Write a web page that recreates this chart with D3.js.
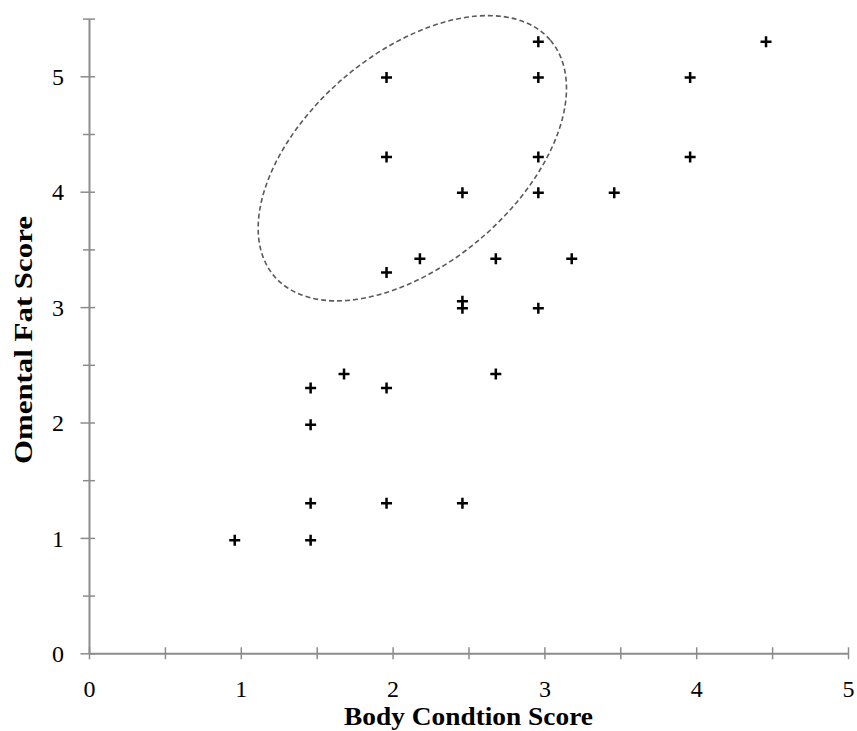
<!DOCTYPE html>
<html>
<head>
<meta charset="utf-8">
<script src="https://cdn.jsdelivr.net/npm/d3@7"></script>
<style>
body { margin: 0; background: #fff; }
</style>
</head>
<body>
<script>
let width = 857
let height = 731

// body condition score (x) and omental fat score (y)
let bcs = [0.96, 1.46, 1.46, 1.96, 2.46, 1.46, 1.46, 1.96, 1.68, 2.68,
           2.46, 2.46, 2.96, 1.96, 2.18, 2.68, 3.18, 2.46, 2.96, 3.46,
           1.96, 2.96, 3.96, 1.96, 2.96, 3.96, 2.96, 4.46]
let ofs = [0.98, 0.98, 1.30, 1.30, 1.30, 1.98, 2.30, 2.30, 2.42, 2.42,
           2.99, 3.05, 2.99, 3.30, 3.42, 3.42, 3.42, 3.99, 3.99, 3.99,
           4.30, 4.30, 4.30, 4.99, 4.99, 4.99, 5.30, 5.30]

let xTickValues = [0, 0.5, 1, 1.5, 2, 2.5, 3, 3.5, 4, 4.5, 5]
let yTickValues = [0, 0.5, 1, 1.5, 2, 2.5, 3, 3.5, 4, 4.5, 5, 5.5]

let xTitle = "Body Condtion Score"
let yTitle = "Omental Fat Score"

// dashed ring round the upper-left group (centre in data units)
let ringCentre = [2.13, 4.29]

let data = bcs.map((d, i) => ({x: d, y: ofs[i]}))

let svg = d3.select("body")
.append("svg")
.attr("width", width)
.attr("height", height)
.style("background", "#ffffff")

//scales
let x = d3.scaleLinear()
.domain([0, 5])
.range([89, 848])

let y = d3.scaleLinear()
.domain([0, 5.5])
.range([653.3, 18.6])

let axisColor = "#8c8c8c"
let serif = "'Liberation Serif', serif"

let xAxis = d3.axisBottom(x)
	.tickValues(xTickValues)
	.tickFormat(d => Number.isInteger(d) ? d : "")
	.tickSizeOuter(0)

let yAxis = d3.axisLeft(y)
	.tickValues(yTickValues)
	.tickFormat(d => Number.isInteger(d) ? d : "")
	.tickSizeOuter(0)

let gx = svg.append("g")
	.attr("transform", "translate(0," + y(0) + ")")
	.call(xAxis)

gx.select(".domain").attr("stroke", axisColor).attr("stroke-width", 2)
gx.selectAll(".tick line")
	.attr("stroke", axisColor)
	.attr("stroke-width", 1.5)
	.attr("y1", -6)
	.attr("y2", 6)
gx.selectAll(".tick text")
	.attr("y", 44)
	.attr("dy", 0)
	.style("font-family", serif)
	.style("font-size", "24px")
	.attr("fill", "#000")

let gy = svg.append("g")
	.attr("transform", "translate(" + x(0) + ",0)")
	.call(yAxis)

gy.select(".domain").attr("stroke", axisColor).attr("stroke-width", 2)
gy.selectAll(".tick line")
	.attr("stroke", axisColor)
	.attr("stroke-width", 1.5)
	.attr("x1", d => Number.isInteger(d) ? -8.5 : -6)
	.attr("x2", 6)
gy.selectAll(".tick text")
	.attr("x", -25)
	.attr("dy", "0.34em")
	.style("font-family", serif)
	.style("font-size", "24px")
	.attr("fill", "#000")

// axis titles (Cambria-like width, stretched from Liberation Serif)
svg.append("text")
	.attr("x", (x(0) + x(5)) / 2)
	.attr("y", 725)
	.attr("text-anchor", "middle")
	.attr("textLength", 249)
	.attr("lengthAdjust", "spacingAndGlyphs")
	.style("font-family", serif)
	.style("font-weight", "bold")
	.style("font-size", "25px")
	.text(xTitle)

svg.append("text")
	.attr("transform", "translate(32,340) rotate(-90)")
	.attr("text-anchor", "middle")
	.attr("textLength", 248)
	.attr("lengthAdjust", "spacingAndGlyphs")
	.style("font-family", serif)
	.style("font-weight", "bold")
	.style("font-size", "25px")
	.text(yTitle)

// dashed ellipse
svg.append("ellipse")
	.attr("cx", x(ringCentre[0]))
	.attr("cy", y(ringCentre[1]))
	.attr("rx", 181.6)
	.attr("ry", 105.5)
	.attr("transform", "rotate(-40.5," + x(ringCentre[0]) + "," + y(ringCentre[1]) + ")")
	.style("fill", "none")
	.style("stroke", "#5a5a5a")
	.style("stroke-width", 1.6)
	.style("stroke-dasharray", "5,3")

// plus markers
let arm = 5.5
svg.selectAll(".pt")
	.data(data)
	.enter()
	.append("path")
	.attr("class", "pt")
	.attr("d", d => {
		let px = x(d.x), py = y(d.y)
		return "M" + (px - arm) + "," + py + "H" + (px + arm) +
			"M" + px + "," + (py - arm) + "V" + (py + arm)
	})
	.style("stroke", "#000")
	.style("stroke-width", 2.5)
	.style("fill", "none")
</script>
</body>
</html>
